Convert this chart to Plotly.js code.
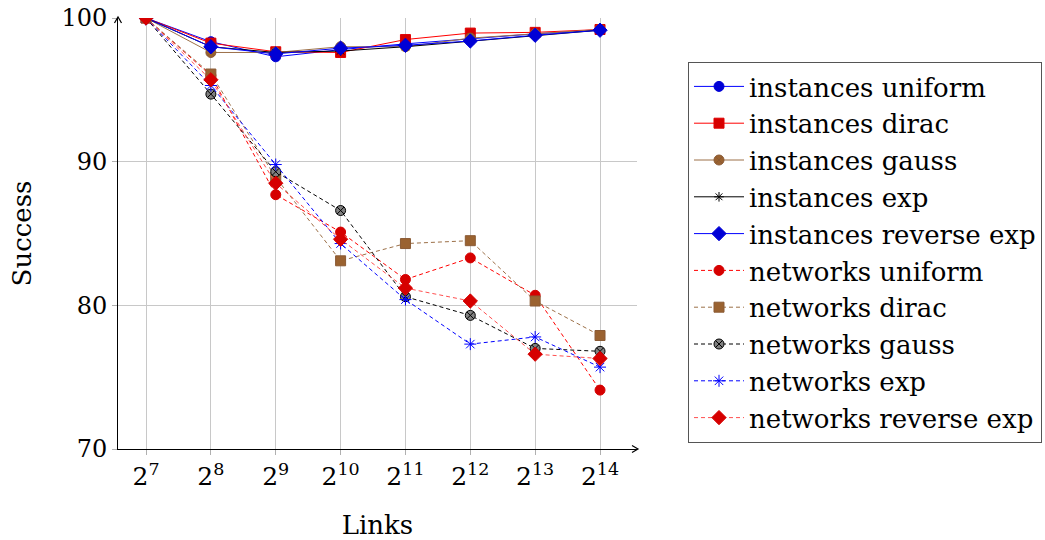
<!DOCTYPE html>
<html>
<head>
<meta charset="utf-8">
<script src="https://cdn.plot.ly/plotly-3.0.1.min.js"></script>
<style>html,body{margin:0;padding:0;background:#fff;}</style>
</head>
<body>
<div id="chart" style="width:1045px;height:540px;"></div>
<script>
// log2 of number of links
var links = [7, 8, 9, 10, 11, 12, 13, 14];
var tickLabels = ["2<sup>7</sup>", "2<sup>8</sup>", "2<sup>9</sup>", "2<sup>10</sup>", "2<sup>11</sup>", "2<sup>12</sup>", "2<sup>13</sup>", "2<sup>14</sup>"];

var instancesUniform    = [100, 98.35, 97.3, 97.8, 98.2, 98.55, 98.9, 99.15];
var instancesDirac      = [100, 98.25, 97.65, 97.6, 98.5, 98.95, 99.0, 99.2];
var instancesGauss      = [100, 97.6, 97.6, 98.0, 98.0, 98.6, 98.9, 99.2];
var instancesExp        = [100, 98.0, 97.6, 97.7, 98.0, 98.4, 98.8, 99.15];
var instancesReverseExp = [100, 98.0, 97.5, 97.9, 98.1, 98.4, 98.8, 99.15];

var networksUniform     = [100, 96.0, 87.7, 85.1, 81.8, 83.3, 80.7, 74.1];
var networksDirac       = [100, 96.1, 88.9, 83.1, 84.3, 84.5, 80.3, 77.9];
var networksGauss       = [100, 94.7, 89.3, 86.6, 80.6, 79.3, 77.0, 76.8];
var networksExp         = [100, 95.3, 89.8, 84.3, 80.4, 77.3, 77.8, 75.7];
var networksReverseExp  = [100, 95.7, 88.5, 84.6, 81.2, 80.3, 76.6, 76.3];

var RED_LINE = '#ff0000', RED_FILL = '#d60000';
var BLUE_LINE = '#0000ff', BLUE_FILL = '#0000d6';
var BROWN_LINE = '#9c7048', BROWN_FILL = '#9a6230', BROWN_EDGE = '#8a5a34';
var DASH = '4px,3px';

function tr(name, y, lineColor, dash, symbol, size, fill, edge, edgeW) {
  return {
    x: links, y: y, name: name, type: 'scatter', mode: 'lines+markers',
    line: {color: lineColor, width: 1, dash: dash},
    marker: {symbol: symbol, size: size, color: fill, line: {color: edge, width: edgeW}}
  };
}

var data = [
  tr('instances uniform', instancesUniform, BLUE_LINE, 'solid', 'circle', 10, BLUE_FILL, BLUE_FILL, 1),
  tr('instances dirac', instancesDirac, RED_LINE, 'solid', 'square', 10, RED_FILL, '#e00000', 1),
  tr('instances gauss', instancesGauss, BROWN_LINE, 'solid', 'circle-x', 10, BROWN_FILL, BROWN_EDGE, 1),
  tr('instances exp', instancesExp, '#000000', 'solid', 'asterisk-open', 8, '#000000', '#000000', 1),
  tr('instances reverse exp', instancesReverseExp, BLUE_LINE, 'solid', 'diamond', 11, BLUE_FILL, BLUE_FILL, 1),
  tr('networks uniform', networksUniform, RED_LINE, DASH, 'circle', 10, RED_FILL, RED_FILL, 1),
  tr('networks dirac', networksDirac, BROWN_LINE, DASH, 'square', 10, BROWN_FILL, BROWN_EDGE, 1),
  tr('networks gauss', networksGauss, '#000000', DASH, 'circle-x', 10, '#808080', '#000000', 1),
  tr('networks exp', networksExp, BLUE_LINE, DASH, 'asterisk-open', 10, BLUE_LINE, BLUE_LINE, 1),
  tr('networks reverse exp', networksReverseExp, '#ff5050', DASH, 'diamond', 11, RED_FILL, RED_FILL, 1)
];

var FONT = 'DejaVu Serif';

var layout = {
  width: 1045, height: 540,
  margin: {l: 118, r: 408, t: 18, b: 91},
  paper_bgcolor: '#ffffff', plot_bgcolor: '#ffffff',
  font: {family: FONT, size: 24, color: '#000000'},
  showlegend: true,
  xaxis: {
    range: [6.568, 14.57],
    tickmode: 'array', tickvals: links, ticktext: tickLabels,
    showgrid: true, gridcolor: '#c8c8c8', gridwidth: 1,
    zeroline: false,
    showline: true, linecolor: '#000000', linewidth: 1,
    ticks: 'outside', ticklen: 5, tickcolor: '#b0b0b0', tickwidth: 1,
    tickfont: {family: FONT, size: 25},
    title: {text: 'Links', font: {family: FONT, size: 26}, standoff: 28},
    automargin: false
  },
  yaxis: {
    range: [70, 100],
    tickmode: 'array', tickvals: [70, 80, 90, 100], ticktext: ['70', '80', '90', '100'],
    showgrid: true, gridcolor: '#c8c8c8', gridwidth: 1,
    zeroline: false,
    showline: true, linecolor: '#000000', linewidth: 1,
    ticks: 'outside', ticklen: 5, tickcolor: '#b0b0b0', tickwidth: 1,
    tickfont: {family: FONT, size: 24},
    title: {text: 'Success', font: {family: FONT, size: 26}, standoff: 22},
    automargin: false
  },
  legend: {
    xref: 'container', yref: 'container',
    x: 688 / 1045, y: 1 - 62 / 540, xanchor: 'left', yanchor: 'top',
    maxheight: 480,
    bgcolor: '#ffffff', bordercolor: '#555555', borderwidth: 1,
    font: {family: FONT, size: 26, color: '#000000'},
    itemwidth: 50, traceorder: 'normal'
  },
  shapes: [
    {type: 'path', xref: 'paper', yref: 'paper', xsizemode: 'pixel', ysizemode: 'pixel',
     xanchor: 0, yanchor: 1, path: 'M-3.5,-5 L0,1 L3.5,-5', line: {color: '#000000', width: 1.2}},
    {type: 'path', xref: 'paper', yref: 'paper', xsizemode: 'pixel', ysizemode: 'pixel',
     xanchor: 1, yanchor: 0, path: 'M-5,3.5 L1,0 L-5,-3.5', line: {color: '#000000', width: 1.2}}
  ]
};

Plotly.newPlot('chart', data, layout, {displayModeBar: false, staticPlot: true});
</script>
</body>
</html>
